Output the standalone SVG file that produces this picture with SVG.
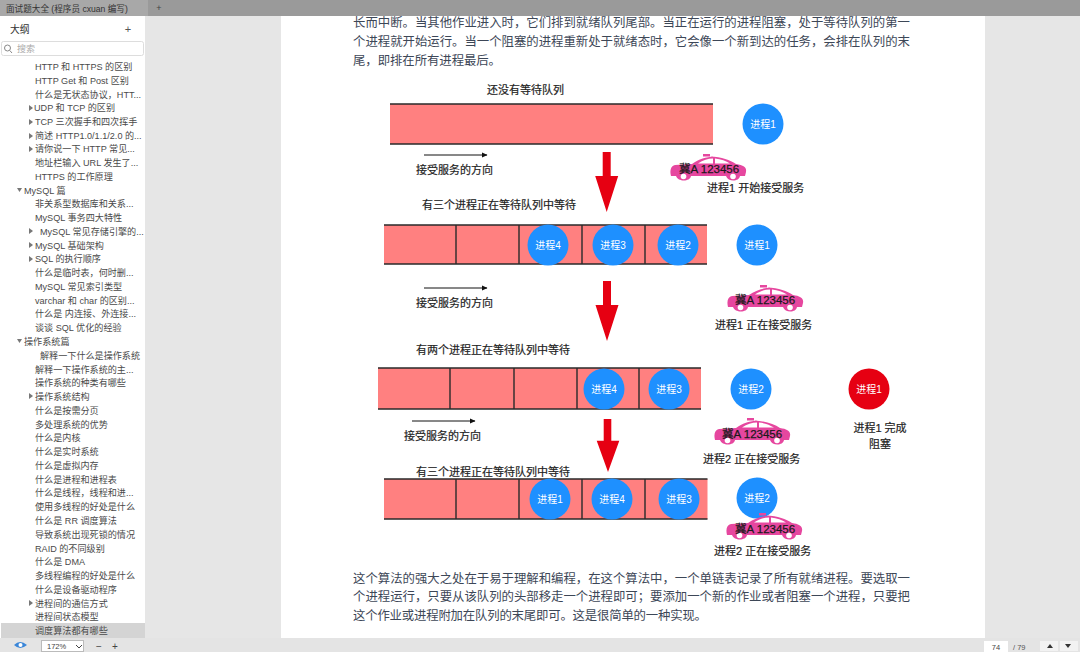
<svg xmlns="http://www.w3.org/2000/svg" xmlns:xlink="http://www.w3.org/1999/xlink" width="1080" height="652" viewBox="0 0 1080 652">
<style>
text{font-family:"Liberation Sans","Noto Sans CJK SC",sans-serif}
.s{font-size:9.1px;fill:#4a4a4a}
.p{font-size:12.4px;fill:#3d4757}
.l{font-size:11px;fill:#222;font-weight:400;stroke:#222;stroke-width:.2}
.w{font-size:10px;fill:#fff;text-anchor:middle}
.q{fill:#ff8080}
.b{stroke:#2a2a2a;stroke-width:1.4;fill:none}
.c{fill:#1e90ff}
.t{fill:#777}
.car{font-size:11.5px;fill:#1a1a1a;font-weight:400;stroke:#1a1a1a;stroke-width:.25}
</style>
<defs>
<marker id="ah" markerWidth="6" markerHeight="6" refX="5" refY="3" orient="auto"><path d="M0 0.500L5.500 3L0 5.500z" fill="#111"/></marker>
<g id="taxi"><path fill="#e6479f" d="M1 23C-.5 17 1 13 5 12L22 11C29 6 36 4 44 3.500H33V1H40V3.500C52 4 60 7 66 11C73 12 77 14 76 19L75 23H70C69 29 58 29 56 23H21C20 29 8 29 6 23Z"/><path fill="#fff" d="M28 10.500C33 7 38 5.500 43 5.500V10.500ZM45 5.500C51 6 56 8 60 10.500H45Z"/><circle cx="13.500" cy="23.500" r="2.800" fill="#fff"/><circle cx="63" cy="23.500" r="2.800" fill="#fff"/></g>
<path id="red" fill="#e60012" d="M-4 0H4V24H11.500L0 60L-11.500 24H-4Z"/>
</defs>
<rect width="1080" height="652" fill="#e6e6e6"/>
<rect x="281" width="704" height="652" fill="#fff"/>
<rect y="16" width="145" height="622" fill="#fff"/>
<g id="tabbar"><rect width="1080" height="16" fill="#9a9a9a"/><rect width="148" height="16" fill="#a8a8a8"/><text x="6" y="12" font-size="8.600" fill="#333">面试题大全 (程序员 cxuan 编写)</text><text x="159" y="11" font-size="9" fill="#444" text-anchor="middle">+</text></g>
<g id="sidebar">
<text x="10" y="33" font-size="9.800" fill="#333">大纲</text><text x="128" y="33" font-size="11" fill="#555" text-anchor="middle">+</text>
<rect x="1.500" y="41.500" width="142" height="14" rx="2" fill="#fff" stroke="#ddd"/><circle cx="7.500" cy="48" r="3" fill="none" stroke="#888"/><path d="M9.800 50.500L12 53" stroke="#888"/><text x="17" y="52" font-size="9" fill="#aaa">搜索</text>
<rect x="1" y="623" width="144" height="15" fill="#d4d4d4"/>
<g class="s">
<text x="35" y="70">HTTP 和 HTTPS 的区别</text>
<text x="35" y="84">HTTP Get 和 Post 区别</text>
<text x="35" y="98">什么是无状态协议，HTT...</text>
<text x="34" y="111">UDP 和 TCP 的区别</text>
<text x="35" y="125">TCP 三次握手和四次挥手</text>
<text x="35" y="139">简述 HTTP1.0/1.1/2.0 的...</text>
<text x="35" y="152">请你说一下 HTTP 常见...</text>
<text x="35" y="166">地址栏输入 URL 发生了...</text>
<text x="35" y="180">HTTPS 的工作原理</text>
<text x="24" y="194">MySQL 篇</text>
<text x="35" y="207">非关系型数据库和关系...</text>
<text x="35" y="221">MySQL 事务四大特性</text>
<text x="40" y="235">MySQL 常见存储引擎的...</text>
<text x="35" y="249">MySQL 基础架构</text>
<text x="35" y="262">SQL 的执行顺序</text>
<text x="35" y="276">什么是临时表，何时删...</text>
<text x="35" y="290">MySQL 常见索引类型</text>
<text x="35" y="304">varchar 和 char 的区别...</text>
<text x="35" y="317">什么是 内连接、外连接...</text>
<text x="35" y="331">谈谈 SQL 优化的经验</text>
<text x="24" y="345">操作系统篇</text>
<text x="40" y="359">解释一下什么是操作系统</text>
<text x="35" y="373">解释一下操作系统的主...</text>
<text x="35" y="386">操作系统的种类有哪些</text>
<text x="35" y="400">操作系统结构</text>
<text x="35" y="414">什么是按需分页</text>
<text x="35" y="428">多处理系统的优势</text>
<text x="35" y="441">什么是内核</text>
<text x="35" y="455">什么是实时系统</text>
<text x="35" y="469">什么是虚拟内存</text>
<text x="35" y="483">什么是进程和进程表</text>
<text x="35" y="496">什么是线程，线程和进...</text>
<text x="35" y="510">使用多线程的好处是什么</text>
<text x="35" y="524">什么是 RR 调度算法</text>
<text x="35" y="538">导致系统出现死锁的情况</text>
<text x="35" y="552">RAID 的不同级别</text>
<text x="35" y="565">什么是 DMA</text>
<text x="35" y="579">多线程编程的好处是什么</text>
<text x="35" y="593">什么是设备驱动程序</text>
<text x="35" y="607">进程间的通信方式</text>
<text x="35" y="620">进程间状态模型</text>
<text x="35" y="634">调度算法都有哪些</text>
</g>
<g class="t">
<path d="M29 105L33 108L29 111Z"/><path d="M29 119L33 122L29 125Z"/><path d="M29 133L33 136L29 139Z"/><path d="M29 146L33 149L29 152Z"/>
<path d="M17 188L22 188L19.500 192Z"/><path d="M29 228L33 231L29 234Z"/><path d="M29 242L33 245L29 248Z"/><path d="M29 256L33 259L29 262Z"/>
<path d="M17 339L22 339L19.500 343Z"/><path d="M29 393L33 396L29 399Z"/><path d="M29 600L33 603L29 606Z"/>
</g>
</g>
<g id="bottombar"><rect y="638" width="1080" height="14" fill="#e4e4e4"/>
<path d="M14 645Q20 639 27 645Q20 651 14 645Z" fill="#3a86d8"/><circle cx="20.500" cy="645" r="2" fill="#fff"/>
<rect x="41.500" y="640.500" width="42" height="11" fill="#fff" stroke="#bbb"/><text x="47" y="649" font-size="7.500" fill="#444">172%</text><path d="M76 645L79 648L82 645" fill="none" stroke="#444"/>
<text x="99" y="650" font-size="10" fill="#444" text-anchor="middle">−</text><text x="115" y="650" font-size="10" fill="#444" text-anchor="middle">+</text>
<rect x="984" y="641" width="24" height="11" fill="#fff"/><text x="996" y="649.500" font-size="7.500" fill="#444" text-anchor="middle">74</text><text x="1013" y="649.500" font-size="7.500" fill="#555">/ 79</text>
<rect x="1040" y="641" width="18" height="10" fill="#f2f2f2"/><rect x="1060" y="641" width="18" height="10" fill="#f2f2f2"/><path d="M1047 648L1050 644L1053 648Z" fill="#333"/><path d="M1065 644L1071 644L1068 648Z" fill="#333"/></g>
<g id="page-text">
<text class="p" x="353" y="27" textLength="557">长而中断。当其他作业进入时，它们排到就绪队列尾部。当正在运行的进程阻塞，处于等待队列的第一</text>
<text class="p" x="353" y="46" textLength="557">个进程就开始运行。当一个阻塞的进程重新处于就绪态时，它会像一个新到达的任务，会排在队列的末</text>
<text class="p" x="353" y="65" textLength="148">尾，即排在所有进程最后。</text>
<text class="p" x="353" y="583" textLength="557">这个算法的强大之处在于易于理解和编程，在这个算法中，一个单链表记录了所有就绪进程。要选取一</text>
<text class="p" x="353" y="601" textLength="557">个进程运行，只要从该队列的头部移走一个进程即可；要添加一个新的作业或者阻塞一个进程，只要把</text>
<text class="p" x="353" y="620" textLength="354">这个作业或进程附加在队列的末尾即可。这是很简单的一种实现。</text>
</g>
<g id="queues">
<g id="queue1"><rect class="q" x="390" y="104" width="323" height="40"/><path class="b" d="M390 104H713M390 144H713"/></g>
<g id="queue2"><rect class="q" x="384" y="225" width="323" height="39"/><path class="b" d="M384 225H707M384 264H707M456 225V264M519 225V264M582 225V264M645 225V264"/></g>
<g id="queue3"><rect class="q" x="378" y="368" width="323" height="41"/><path class="b" d="M378 368H701M378 409H701M450 368V409M514 368V409M577 368V409M639 368V409"/></g>
<g id="queue4"><rect class="q" x="384" y="479" width="323.500" height="40"/><path class="b" d="M384 479H707.500M384 519H707.500M456 479V519M519 479V519M582 479V519M645 479V519"/></g>
</g>
<g id="connectors">
<path d="M424 155H487" stroke="#111" marker-end="url(#ah)"/>
<path d="M424 288H487" stroke="#111" marker-end="url(#ah)"/>
<path d="M412 421H475" stroke="#111" marker-end="url(#ah)"/>
<use href="#red" xlink:href="#red" x="606.700" y="152"/>
<use href="#red" xlink:href="#red" x="607" y="281"/>
<path fill="#e60012" d="M603.700 419H611.300V440.700H619.300L608 472L596.700 440.700H603.700Z"/>
</g>
<g id="labels">
<text class="l" x="487" y="94">还没有等待队列</text>
<text class="l" x="416" y="174">接受服务的方向</text>
<text class="l" x="707" y="192">进程1 开始接受服务</text>
<text class="l" x="422" y="209">有三个进程正在等待队列中等待</text>
<text class="l" x="416" y="307">接受服务的方向</text>
<text class="l" x="715" y="329">进程1 正在接受服务</text>
<text class="l" x="416" y="354">有两个进程正在等待队列中等待</text>
<text class="l" x="404" y="440">接受服务的方向</text>
<text class="l" x="703" y="463">进程2 正在接受服务</text>
<text class="l" x="416" y="476">有三个进程正在等待队列中等待</text>
<text class="l" x="714" y="555">进程2 正在接受服务</text>
<text class="l" x="880" y="432" text-anchor="middle">进程1 完成</text>
<text class="l" x="880" y="448" text-anchor="middle">阻塞</text>
</g>
<g id="p1-a"><circle class="c" cx="763" cy="124" r="20.500"/><text class="w" x="763" y="128">进程1</text></g>
<g id="p4-b"><circle class="c" cx="548" cy="245" r="20.500"/><text class="w" x="548" y="249">进程4</text></g>
<g id="p3-b"><circle class="c" cx="613" cy="245" r="20.500"/><text class="w" x="613" y="249">进程3</text></g>
<g id="p2-b"><circle class="c" cx="678" cy="245" r="20.500"/><text class="w" x="678" y="249">进程2</text></g>
<g id="p1-b"><circle class="c" cx="757" cy="245" r="20.500"/><text class="w" x="757" y="249">进程1</text></g>
<g id="p4-c"><circle class="c" cx="604" cy="389" r="20.500"/><text class="w" x="604" y="393">进程4</text></g>
<g id="p3-c"><circle class="c" cx="669" cy="389" r="20.500"/><text class="w" x="669" y="393">进程3</text></g>
<g id="p2-c"><circle class="c" cx="751" cy="389" r="20.500"/><text class="w" x="751" y="393">进程2</text></g>
<g id="p1-c"><circle cx="869" cy="389" r="20.500" fill="#e60012"/><text class="w" x="869" y="393">进程1</text></g>
<g id="p1-d"><circle class="c" cx="550" cy="499" r="20.500"/><text class="w" x="550" y="503">进程1</text></g>
<g id="p4-d"><circle class="c" cx="612" cy="499" r="20.500"/><text class="w" x="612" y="503">进程4</text></g>
<g id="p3-d"><circle class="c" cx="679" cy="499" r="20.500"/><text class="w" x="679" y="503">进程3</text></g>
<g id="p2-d"><circle class="c" cx="757" cy="498" r="20.500"/><text class="w" x="757" y="502">进程2</text></g>
<g id="taxi1"><use href="#taxi" xlink:href="#taxi" x="670" y="153"/><text class="car" x="679" y="173">冀A 123456</text></g>
<g id="taxi2"><use href="#taxi" xlink:href="#taxi" x="727" y="284"/><text class="car" x="735" y="304">冀A 123456</text></g>
<g id="taxi3"><use href="#taxi" xlink:href="#taxi" x="714" y="417"/><text class="car" x="722" y="438">冀A 123456</text></g>
<g id="taxi4"><use href="#taxi" xlink:href="#taxi" x="726" y="512"/><text class="car" x="735" y="533">冀A 123456</text></g>
</svg>
